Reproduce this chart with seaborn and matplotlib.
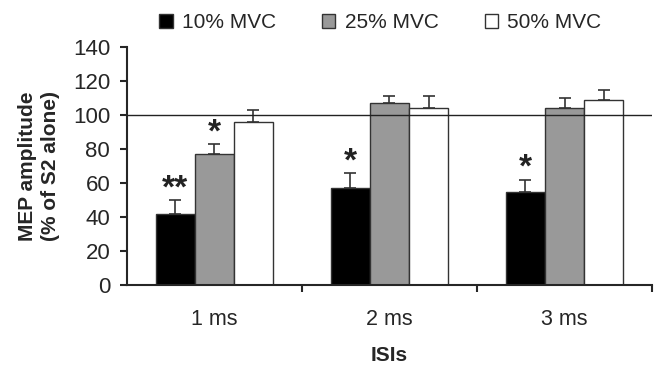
import numpy as np
import pandas as pd
import seaborn as sns
import matplotlib.pyplot as plt

isis = ["1 ms", "2 ms", "3 ms"]
levels = ["10% MVC", "25% MVC", "50% MVC"]
mvc10 = [42, 57, 55]
mvc25 = [77, 107, 104]
mvc50 = [96, 104, 109]
err10 = [8, 9, 7]
err25 = [6, 4, 6]
err50 = [7, 7, 6]
stars10 = ["**", "*", "*"]
stars25 = ["*", "", ""]
stars50 = ["", "", ""]

df = pd.DataFrame({
    "isi": isis * 3,
    "level": np.repeat(levels, 3),
    "value": mvc10 + mvc25 + mvc50,
    "err": err10 + err25 + err50,
    "star": stars10 + stars25 + stars50,
})

sns.set_style("ticks")
plt.rcParams["font.family"] = ["Liberation Sans", "DejaVu Sans"]

fig = plt.figure(figsize=(6.54, 3.67), dpi=100)
ax = fig.add_axes([0.194, 0.223, 0.803, 0.649])

colors = ["#000000", "#999999", "#ffffff"]
sns.barplot(data=df, x="isi", y="value", hue="level", order=isis, hue_order=levels,
            palette=colors, width=0.67, edgecolor="#333333", linewidth=1.0,
            errorbar=None, ax=ax, saturation=1)

# error bars (upward only) and stars
for bars, lev in zip(ax.containers, levels):
    sub = df[df.level == lev].set_index("isi").loc[isis]
    xs = [b.get_x() + b.get_width() / 2 for b in bars]
    ax.errorbar(xs, sub.value, yerr=[np.zeros(3), sub.err], fmt="none",
                ecolor="#333333", elinewidth=1.2, capsize=4, capthick=1.2)
    for x, v, e, s in zip(xs, sub.value, sub.err, sub.star):
        if s:
            ax.text(x, v + e - 2.5, s, ha="center", va="bottom", fontsize=24,
                    fontweight="bold", color="#222222")

ax.axhline(100, color="#222222", linewidth=1.0)

ax.set_xlim(-0.5, 2.5)
ax.set_ylim(0, 140)
ax.set_yticks(range(0, 141, 20))
ax.set_xticks([0.5, 1.5, 2.5], minor=True)
ax.tick_params(axis="x", which="major", length=0, pad=17, labelsize=15.5)
ax.tick_params(axis="x", which="minor", length=5, width=1.5, direction="out")
ax.tick_params(axis="y", length=5, width=1.5, labelsize=16, pad=7)
for sp in ["top", "right"]:
    ax.spines[sp].set_visible(False)
for sp in ["left", "bottom"]:
    ax.spines[sp].set_linewidth(1.5)

ax.set_xlabel("ISIs", fontsize=15, fontweight="bold", labelpad=12)
ax.set_ylabel("MEP amplitude\n(% of S2 alone)", fontsize=15, fontweight="bold",
              labelpad=9, linespacing=1.3)

ax.legend_.remove()
handles, labels = ax.get_legend_handles_labels()
fig.legend(handles, labels, loc="center left", bbox_to_anchor=(159 / 654, 1 - 23 / 367),
           ncol=3, frameon=False, fontsize=15, handlelength=0.65, handleheight=0.65,
           handletextpad=0.45, columnspacing=2.2, borderaxespad=0, borderpad=0)

fig.savefig("out.png", dpi=100)
